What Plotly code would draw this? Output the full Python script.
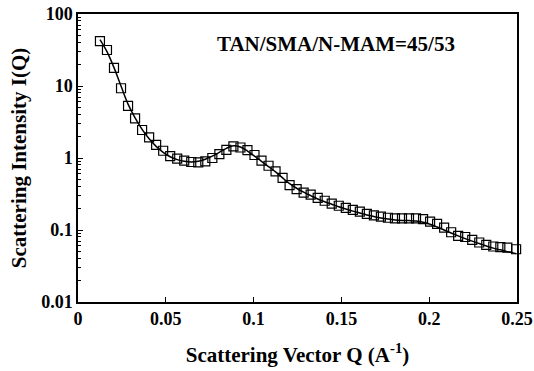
import plotly.graph_objects as go

q = [0.0125, 0.0165, 0.0205, 0.0245, 0.0285, 0.0325, 0.0365, 0.0405, 0.0445, 0.0485,
     0.0525, 0.0565, 0.0605, 0.0645, 0.0685, 0.0725, 0.0765, 0.0805, 0.0845, 0.0885,
     0.0925, 0.0965, 0.1005, 0.1045, 0.1085, 0.1125, 0.1165, 0.1205, 0.1245, 0.1285,
     0.1325, 0.1365, 0.1405, 0.1445, 0.1485, 0.1525, 0.1565, 0.1605, 0.1645, 0.1685,
     0.1725, 0.1765, 0.1805, 0.1845, 0.1885, 0.1925, 0.1965, 0.2005, 0.2045, 0.2085,
     0.2125, 0.2165, 0.2205, 0.2245, 0.2285, 0.2325, 0.2365, 0.2405, 0.2445, 0.2495]

intensity = [42, 31.6, 17.9, 9.3, 5.3, 3.56, 2.45, 1.94, 1.52, 1.26,
             1.06, 0.98, 0.92, 0.88, 0.87, 0.90, 1.0, 1.13, 1.30, 1.45,
             1.40, 1.29, 1.10, 0.92, 0.78, 0.65, 0.53, 0.42, 0.37, 0.33,
             0.31, 0.28, 0.255, 0.233, 0.217, 0.203, 0.19, 0.18, 0.168, 0.16,
             0.153, 0.148, 0.145, 0.145, 0.145, 0.145, 0.142, 0.131, 0.122, 0.108,
             0.093, 0.083, 0.080, 0.073, 0.067, 0.062, 0.059, 0.058, 0.057, 0.054]

fit = [44, 30, 18, 10, 5.6, 3.6, 2.5, 1.85, 1.45, 1.2,
       1.04, 0.95, 0.9, 0.88, 0.9, 0.96, 1.06, 1.2, 1.36, 1.48,
       1.42, 1.25, 1.06, 0.9, 0.76, 0.64, 0.53, 0.44, 0.38, 0.335,
       0.30, 0.27, 0.247, 0.228, 0.21, 0.196, 0.183, 0.172, 0.162, 0.154,
       0.147, 0.142, 0.138, 0.136, 0.135, 0.133, 0.128, 0.12, 0.11, 0.1,
       0.091, 0.083, 0.076, 0.07, 0.065, 0.06, 0.056, 0.053, 0.05, 0.047]

x_ticks = [0, 0.05, 0.1, 0.15, 0.2, 0.25]
x_tick_text = ["0", "0.05", "0.1", "0.15", "0.2", "0.25"]
y_ticks = [0.01, 0.1, 1, 10, 100]
y_tick_text = ["0.01", "0.1", "1", "10", "100"]

FONT = "Liberation Serif"

# minor tick positions on the log axis (2..9 within each decade)
minor_vals = [m * d for d in [0.01, 0.1, 1, 10] for m in range(2, 10)]

fig = go.Figure()
fig.add_trace(go.Scatter(
    x=q, y=intensity, mode="markers",
    marker=dict(symbol="square-open", size=9, color="black", line=dict(width=1.2)),
    showlegend=False, cliponaxis=False))
fig.add_trace(go.Scatter(
    x=q, y=fit, mode="lines", line=dict(color="black", width=1.5, shape="spline"),
    showlegend=False))

fig.add_annotation(
    x=0.078, y=1.58, xref="x", yref="y", yanchor="middle", xanchor="left",
    text="TAN/SMA/N-MAM=45/53", showarrow=False,
    font=dict(family=FONT, size=21, color="black", weight="bold"))

fig.update_layout(
    width=534, height=371,
    margin=dict(l=78, r=17, t=14, b=69),
    paper_bgcolor="white", plot_bgcolor="white",
    font=dict(family=FONT, color="black", weight="bold"),
)
fig.update_xaxes(
    range=[0, 0.25], tickvals=x_ticks, ticktext=x_tick_text, automargin=False,
    ticks="inside", ticklen=5, tickcolor="black",
    showline=True, linecolor="black", linewidth=1.5, mirror=True, showgrid=False, zeroline=False,
    tickfont=dict(family=FONT, size=18, weight="bold"),
    title=dict(text="Scattering Vector Q (A<sup>-1</sup>)", standoff=19,
               font=dict(family=FONT, size=21, weight="bold")))
fig.update_yaxes(
    type="log", range=[-2, 2], tickvals=y_ticks, ticktext=y_tick_text, automargin=False,
    ticks="inside", ticklen=5, tickcolor="black",
    minor=dict(tickmode="array", tickvals=minor_vals, ticks="inside", ticklen=3,
               tickcolor="black", showgrid=False),
    showline=True, linecolor="black", linewidth=1.5, mirror=True, showgrid=False, zeroline=False,
    tickfont=dict(family=FONT, size=18, weight="bold"),
    title=dict(text="Scattering Intensity I(Q)", standoff=9,
               font=dict(family=FONT, size=21, weight="bold")))

fig.write_html("out.html")
